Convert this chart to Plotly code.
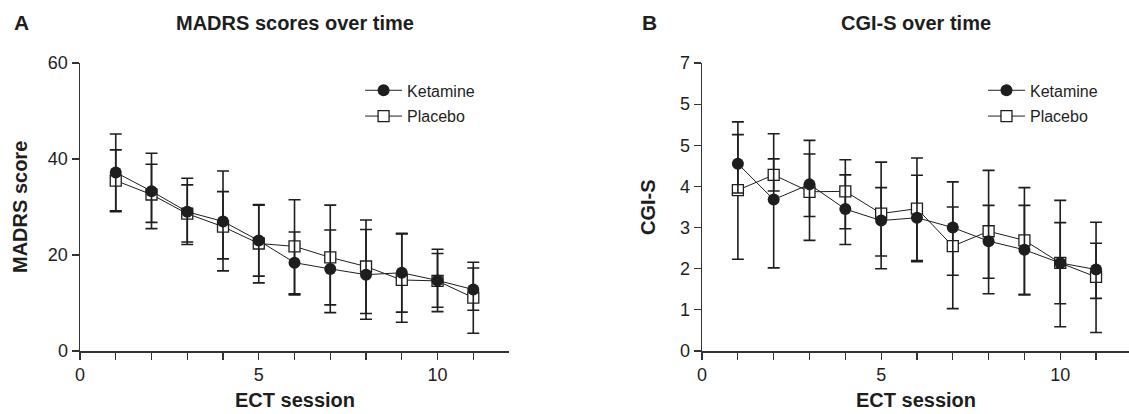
import plotly.graph_objects as go
from plotly.subplots import make_subplots

sessions = [1, 2, 3, 4, 5, 6, 7, 8, 9, 10, 11]

# Panel A: MADRS score (mean, upper and lower error-bar ends)
madrs_ket = [37.2, 33.3, 29.0, 27.0, 23.0, 18.4, 17.1, 15.9, 16.3, 14.7, 12.8]
madrs_ket_hi = [45.2, 41.2, 36.0, 37.5, 30.5, 24.8, 25.2, 25.3, 24.5, 21.2, 17.3]
madrs_ket_lo = [29.2, 25.5, 22.2, 16.7, 15.6, 11.9, 9.6, 6.6, 8.1, 8.2, 8.5]
madrs_pla = [35.5, 32.6, 28.6, 25.9, 22.4, 21.8, 19.5, 17.6, 14.8, 14.6, 11.1]
madrs_pla_hi = [41.9, 38.9, 34.6, 33.2, 30.4, 31.5, 30.4, 27.3, 24.4, 20.3, 18.5]
madrs_pla_lo = [29.0, 26.8, 22.7, 19.2, 14.2, 11.7, 8.0, 7.8, 6.0, 9.1, 3.7]

# Panel B: CGI-S
cgi_ket = [4.55, 3.68, 4.05, 3.45, 3.17, 3.24, 3.00, 2.67, 2.46, 2.14, 1.98]
cgi_ket_hi = [5.26, 5.28, 4.79, 4.28, 3.97, 4.27, 4.11, 3.54, 3.54, 3.12, 2.62]
cgi_ket_lo = [3.84, 2.02, 3.27, 2.59, 2.31, 2.17, 1.84, 1.77, 1.37, 1.15, 1.28]
cgi_pla = [3.91, 4.28, 3.87, 3.88, 3.34, 3.46, 2.55, 2.91, 2.69, 2.14, 1.80]
cgi_pla_hi = [5.57, 4.67, 5.12, 4.65, 4.59, 4.69, 3.50, 4.39, 3.97, 3.66, 3.13]
cgi_pla_lo = [2.23, 3.89, 2.69, 2.97, 2.00, 2.20, 1.03, 1.39, 1.37, 0.59, 0.45]

x_tickvals = [0, 1, 2, 3, 4, 5, 6, 7, 8, 9, 10, 11]
x_ticktext = ["0", "", "", "", "", "5", "", "", "", "", "10", ""]
a_tickvals = [0, 20, 40, 60]
b_tickvals = [0, 1, 2, 3, 4, 5, 6, 7]
b_ticktext = ["0", "1", "2", "3", "4", "5", "5", "7"]

FONT = "Liberation Sans, Arial, Helvetica, sans-serif"
INK = "#1e1e1e"

fig = make_subplots(rows=1, cols=2)

def add_pair(col, ket, ket_hi, ket_lo, pla, pla_hi, pla_lo, legend):
    def err(mean, hi, lo):
        return dict(type="data", symmetric=False,
                    array=[h - m for h, m in zip(hi, mean)],
                    arrayminus=[m - l for m, l in zip(mean, lo)],
                    color=INK, thickness=1.6, width=6)
    fig.add_trace(go.Scatter(
        x=sessions, y=pla, mode="lines+markers", name="Placebo",
        line=dict(color=INK, width=1),
        marker=dict(symbol="square", size=11, color="white", line=dict(color=INK, width=1.3)),
        error_y=err(pla, pla_hi, pla_lo), legend=legend, legendrank=2,
        legendgroup="p" + str(col)), row=1, col=col)
    fig.add_trace(go.Scatter(
        x=sessions, y=ket, mode="lines+markers", name="Ketamine",
        line=dict(color=INK, width=1),
        marker=dict(symbol="circle", size=12, color=INK, line=dict(color=INK, width=0)),
        error_y=err(ket, ket_hi, ket_lo), legend=legend, legendrank=1,
        legendgroup="k" + str(col)), row=1, col=col)

add_pair(1, madrs_ket, madrs_ket_hi, madrs_ket_lo, madrs_pla, madrs_pla_hi, madrs_pla_lo, "legend")
add_pair(2, cgi_ket, cgi_ket_hi, cgi_ket_lo, cgi_pla, cgi_pla_hi, cgi_pla_lo, "legend2")

axis_common = dict(showline=True, linecolor="#333", linewidth=1.5, ticks="outside",
                   ticklen=7, tickwidth=1.2, tickcolor="#333", showgrid=False, zeroline=False,
                   tickfont=dict(family=FONT, size=18, color=INK))

fig.update_xaxes(**axis_common, tickmode="array", tickvals=x_tickvals, ticktext=x_ticktext)
fig.update_xaxes(range=[0, 12], domain=[0, 0.409], row=1, col=1)
fig.update_xaxes(range=[0, 11.92], domain=[0.593, 1.0], row=1, col=2)
fig.update_yaxes(**axis_common)
fig.update_yaxes(range=[0, 60], tickmode="array", tickvals=a_tickvals, row=1, col=1)
fig.update_yaxes(range=[0, 7], tickmode="array", tickvals=b_tickvals, ticktext=b_ticktext, row=1, col=2)

leg = dict(font=dict(family=FONT, size=16, color=INK), bgcolor="rgba(0,0,0,0)",
           xanchor="left", yanchor="top", itemwidth=37, traceorder="grouped",
           tracegroupgap=2)
fig.update_layout(
    legend=dict(**leg, x=0.267, y=0.964, xref="paper", yref="paper"),
    legend2=dict(**leg, x=0.8608, y=0.964, xref="paper", yref="paper"),
)

ann = []
def txt(text, x, y, size, xref="paper", angle=0, xanchor="center"):
    ann.append(dict(text="<b>%s</b>" % text, x=x, y=y, xref=xref, yref="paper",
                    xanchor=xanchor, yanchor="middle", showarrow=False, textangle=angle,
                    font=dict(family=FONT, size=size, color=INK)))

txt("A", -0.0648, 1.1406, 21, xanchor="left")
txt("B", 0.534, 1.1406, 21, xanchor="left")
txt("MADRS scores over time", 0.5, 1.1406, 20, xref="x domain")
txt("CGI-S over time", 0.5, 1.1406, 20, xref="x2 domain")
txt("ECT session", 0.5, -0.170, 20, xref="x domain")
txt("ECT session", 0.5, -0.170, 20, xref="x2 domain")
txt("MADRS score", -0.0572, 0.5, 20, angle=-90)
txt("CGI-S", 0.5415, 0.5, 20, angle=-90)

fig.update_layout(
    width=1129, height=414,
    margin=dict(l=80, r=0, t=63, b=63),
    paper_bgcolor="white", plot_bgcolor="white",
    annotations=ann, showlegend=True,
)

fig.write_html("out.html", config={"displayModeBar": False, "staticPlot": True},
               post_script="document.body.style.margin='0';document.body.style.overflow='hidden';")
